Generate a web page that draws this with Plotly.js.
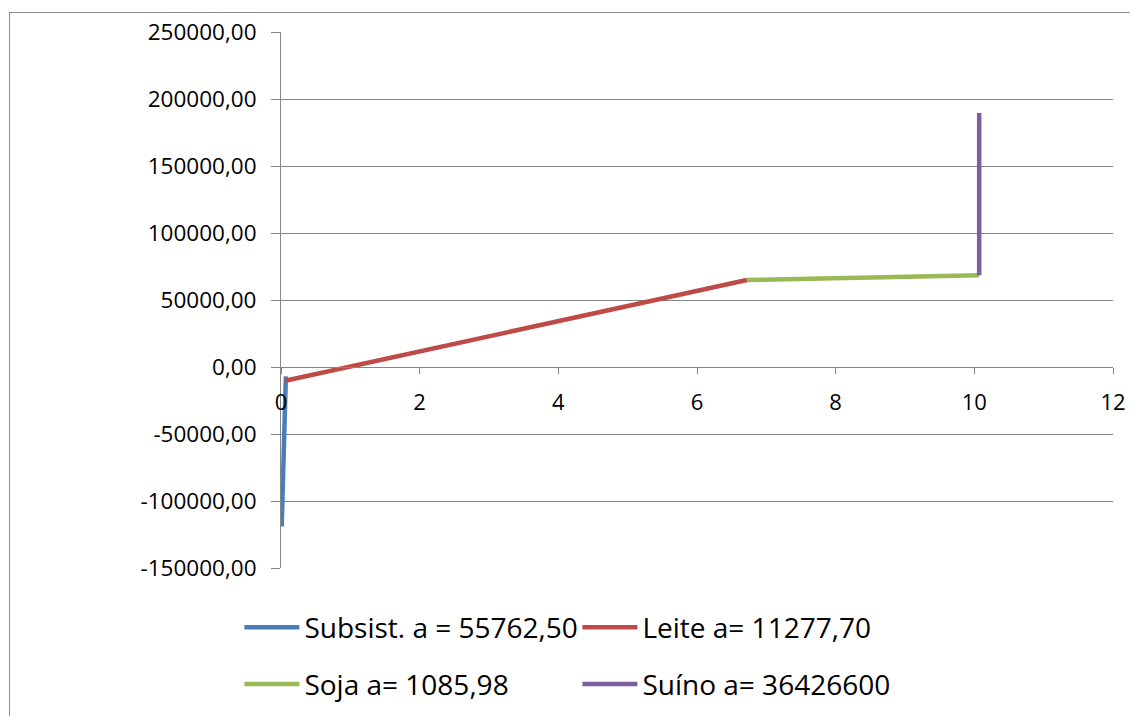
<!DOCTYPE html>
<html>
<head>
<meta charset="utf-8">
<script src="https://cdn.plot.ly/plotly-3.0.1.min.js"></script>
<style>
html,body{margin:0;padding:0;background:#fff;overflow:hidden;}
#chart{position:absolute;left:0;top:0;width:1130px;height:716px;}
#frame{position:absolute;left:9px;top:12px;width:1200px;height:800px;border:1px solid #8c8c8c;pointer-events:none;}
</style>
</head>
<body>
<div id="chart"></div>
<div id="frame"></div>
<script>
// Series data
const subsistX = [0.01, 0.07];
const subsistY = [-119000, -7000];
const leiteX = [0.06, 6.72];
const leiteY = [-10300, 64900];
const sojaX = [6.72, 10.07];
const sojaY = [64900, 68400];
const suinoX = [10.07, 10.07];
const suinoY = [68400, 189500];

const seriesNames = ["Subsist. a = 55762,50", "Leite a= 11277,70", "Soja a= 1085,98", "Suíno a= 36426600"];
const seriesColors = ["#4A7EBB", "#BE4B48", "#98B954", "#7D5FA0"];

const yTickVals = [-150000, -100000, -50000, 0, 50000, 100000, 150000, 200000, 250000];
const yTickLabels = ["-150000,00", "-100000,00", "-50000,00", "0,00", "50000,00", "100000,00", "150000,00", "200000,00", "250000,00"];
const xTickVals = [0, 2, 4, 6, 8, 10, 12];
const xTickLabels = ["0", "2", "4", "6", "8", "10", "12"];

const FONT = "Open Sans, Liberation Sans, sans-serif";
const xs = [subsistX, leiteX, sojaX, suinoX];
const ys = [subsistY, leiteY, sojaY, suinoY];
const legendIds = ["legend", "legend", "legend2", "legend2"];

const traces = xs.map((x, i) => ({
  x: x, y: ys[i], type: "scatter", mode: "lines",
  name: seriesNames[i],
  line: {color: seriesColors[i], width: 4.5},
  legend: legendIds[i],
  cliponaxis: false
}));

const legendBase = {
  orientation: "h",
  x: -0.050, xanchor: "left",
  yanchor: "middle",
  font: {family: FONT, size: 28, color: "#000"},
  entrywidth: 268, entrywidthmode: "pixels",
  itemwidth: 55,
  bgcolor: "rgba(0,0,0,0)",
  borderwidth: 0,
  traceorder: "normal"
};

const layout = {
  width: 1130, height: 716,
  margin: {l: 281, r: 17, t: 32, b: 148, autoexpand: false},
  paper_bgcolor: "#fff", plot_bgcolor: "#fff",
  font: {family: FONT, color: "#000"},
  showlegend: true,
  legend: Object.assign({}, legendBase, {y: -0.111}),
  legend2: Object.assign({}, legendBase, {y: -0.217}),
  xaxis: {
    range: [0, 12],
    tickvals: xTickVals, ticktext: xTickLabels,
    anchor: "free", position: 0.375,
    showgrid: false, zeroline: false,
    showline: true, linecolor: "#868686", linewidth: 1,
    ticks: "outside", ticklen: 6, tickcolor: "#868686",
    ticklabelstandoff: 10,
    tickfont: {family: FONT, size: 22, color: "#000"}
  },
  yaxis: {
    range: [-150000, 250000],
    tickvals: yTickVals, ticktext: yTickLabels,
    showgrid: true, gridcolor: "#868686", gridwidth: 1,
    zeroline: false,
    showline: true, linecolor: "#868686", linewidth: 1,
    ticks: "outside", ticklen: 9, tickcolor: "#868686",
    ticklabelstandoff: 10,
    tickfont: {family: FONT, size: 22.5, color: "#000"}
  },
  hovermode: false
};

Plotly.newPlot("chart", traces, layout, {displayModeBar: false, staticPlot: true});
</script>
</body>
</html>
